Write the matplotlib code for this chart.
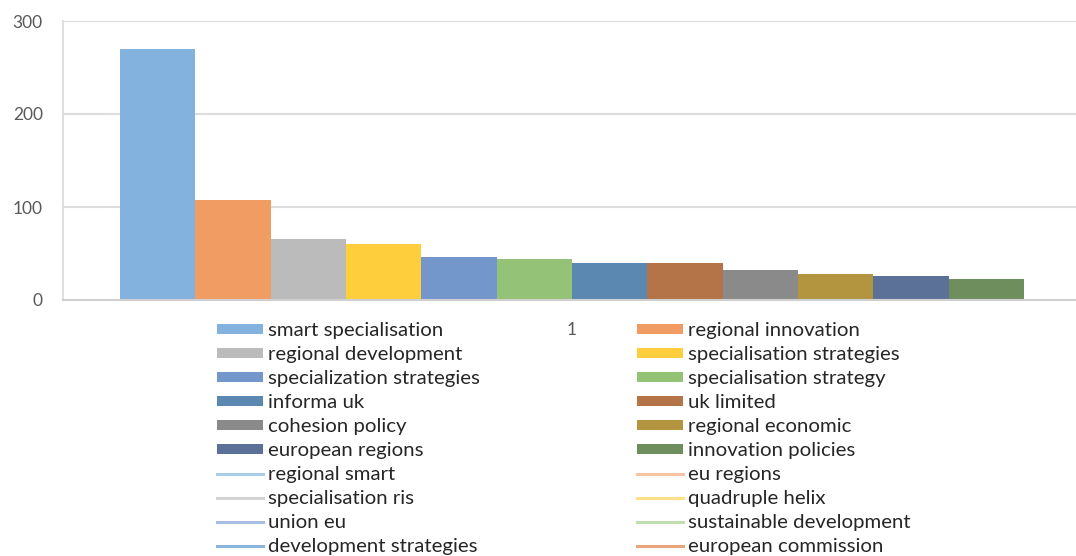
import matplotlib
matplotlib.use("Agg")
import matplotlib.pyplot as plt
from matplotlib.patches import Patch
from matplotlib.lines import Line2D

bar_labels = ["smart specialisation", "regional innovation", "regional development",
              "specialisation strategies", "specialization strategies", "specialisation strategy",
              "informa uk", "uk limited", "cohesion policy", "regional economic",
              "european regions", "innovation policies"]
bar_values = [270, 107, 66, 60, 46, 44, 40, 40, 32, 28, 26, 23]
bar_colors = ["#83B2DE", "#F09C63", "#BBBBBB", "#FFCE3D", "#7396CB", "#94C276",
              "#5A88B0", "#B57348", "#8A8A8A", "#B39540", "#5C7198", "#6E8E5D"]

line_labels = ["regional smart", "eu regions", "specialisation ris", "quadruple helix",
               "union eu", "sustainable development", "development strategies",
               "european commission"]
line_colors = ["#AACDEA", "#F5C4A5", "#D4D4D4", "#FFE08A", "#A9BDE4", "#C0DFB0",
               "#8AB4DC", "#E8A57A"]

category = ["1"]
yticks = [0, 100, 200, 300]

W, H = 1076, 556
fig = plt.figure(figsize=(W / 100, H / 100), dpi=100)
plt.rcParams['font.family'] = ['Lato', 'DejaVu Sans']

left_px, right_px, top_px, bot_px = 63, 1076, 21, 300
ax = fig.add_axes([left_px / W, (H - bot_px) / H, (right_px - left_px) / W, (bot_px - top_px) / H])

bw = 75.33  # px per bar
center_px = 572
n = len(bar_values)
xs = [i - (n - 1) / 2 for i in range(n)]
for x, v, c, lab in zip(xs, bar_values, bar_colors, bar_labels):
    ax.bar(x, v, width=1.0, color=c, linewidth=0, label=lab, zorder=2)

ax.set_xlim((left_px - center_px) / bw, (right_px - center_px) / bw)
ax.set_ylim(0, 300)
ax.set_yticks(yticks)
ax.set_xticks([0])
ax.set_xticklabels(category)
ax.yaxis.grid(True, color="#DDDDDD", linewidth=1.5, zorder=0)
ax.set_axisbelow(True)
for s in ["top", "right"]:
    ax.spines[s].set_visible(False)
ax.spines["left"].set_color("#D9D9D9")
ax.spines["left"].set_linewidth(1.2)
ax.spines["bottom"].set_color("#D0D0D0")
ax.spines["bottom"].set_linewidth(1.5)
ax.tick_params(axis="both", length=0, labelsize=12.5, labelcolor="#595959")
ax.tick_params(axis="y", pad=14.5)
ax.tick_params(axis="x", pad=16)

handles_all = [Patch(facecolor=c, edgecolor="none") for c in bar_colors] + \
              [Line2D([0], [0], color=c, linewidth=2.2) for c in line_colors]
labels_all = bar_labels + line_labels

left_h = handles_all[0::2]
left_l = labels_all[0::2]
right_h = handles_all[1::2]
right_l = labels_all[1::2]

common = dict(frameon=False, fontsize=14.7, handlelength=2.25, handleheight=0.4,
              handletextpad=0.25, labelspacing=0.345, borderpad=0, borderaxespad=0,
              labelcolor="#262626", loc="upper left")
leg1 = fig.legend(left_h, left_l, bbox_to_anchor=(217 / W, 1 - 322 / H), **common)
leg2 = fig.legend(right_h, right_l, bbox_to_anchor=(637 / W, 1 - 322 / H), **common)

fig.savefig("out.png", dpi=100)
